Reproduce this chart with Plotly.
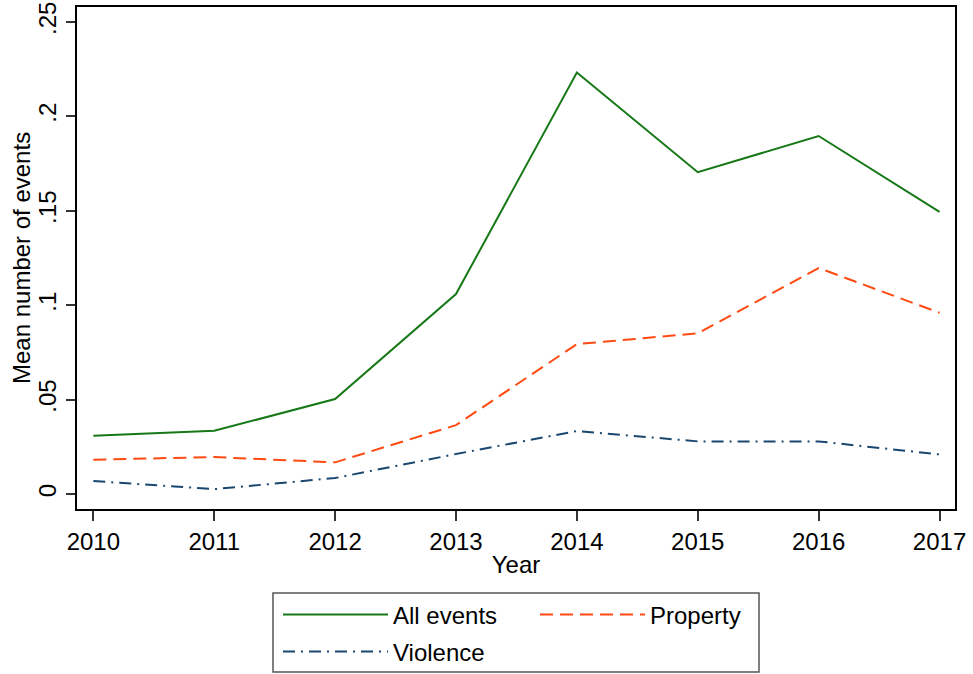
import plotly.graph_objects as go

years = [2010, 2011, 2012, 2013, 2014, 2015, 2016, 2017]
all_events = [0.0309, 0.0335, 0.0503, 0.1059, 0.2232, 0.1704, 0.1896, 0.1494]
property_ev = [0.0182, 0.0196, 0.0168, 0.0365, 0.0794, 0.0851, 0.1197, 0.0960]
violence = [0.0069, 0.0026, 0.0085, 0.0212, 0.0334, 0.0279, 0.0279, 0.0210]

y_tickvals = [0, 0.05, 0.1, 0.15, 0.2, 0.25]
y_ticktext = ["0", ".05", ".1", ".15", ".2", ".25"]

FONT = "Liberation Sans, Arial, sans-serif"
GREEN = "#167816"
ORANGE = "#ff4a12"
NAVY = "#1a476f"

fig = go.Figure()
fig.add_trace(go.Scatter(x=years, y=all_events, mode="lines", name="All events",
                         line=dict(color=GREEN, width=2), legend="legend"))
fig.add_trace(go.Scatter(x=years, y=property_ev, mode="lines", name="Property",
                         line=dict(color=ORANGE, width=2, dash="13px,7px"), legend="legend2"))
fig.add_trace(go.Scatter(x=years, y=violence, mode="lines", name="Violence",
                         line=dict(color=NAVY, width=2, dash="12px,6px,2px,6px"), legend="legend3"))

L, R, T, B = 77, 18, 7, 165
W, H = 973, 674
pw = W - L - R
ph = H - T - B

def px(x):
    return (x - L) / pw

def py(y):
    return (H - B - y) / ph

leg_common = dict(font=dict(family=FONT, size=24, color="black"), bgcolor="rgba(0,0,0,0)",
                  borderwidth=0, itemwidth=105, xanchor="left", yanchor="middle",
                  orientation="v", tracegroupgap=0)

fig.update_layout(
    width=W, height=H,
    margin=dict(l=L, r=R, t=T, b=B, autoexpand=False),
    paper_bgcolor="white", plot_bgcolor="white",
    font=dict(family=FONT, size=24, color="black"),
    showlegend=True,
    legend=dict(x=px(278), y=py(615), **leg_common),
    legend2=dict(x=px(535), y=py(615), **leg_common),
    legend3=dict(x=px(278), y=py(652), **leg_common),
    xaxis=dict(range=[2009.865, 2017.128], tickvals=years, ticks="outside", ticklen=10,
               tickwidth=1.5, tickcolor="#333", showline=True, linecolor="black", linewidth=2,
               mirror=True, showgrid=False, zeroline=False, automargin=False,
               tickfont=dict(family=FONT, size=24, color="black"),
               title=dict(text="Year", font=dict(family=FONT, size=24, color="black"), standoff=2)),
    yaxis=dict(range=[-0.0079, 0.2579], tickvals=y_tickvals, ticktext=y_ticktext,
               ticks="outside", ticklen=9, tickwidth=1.5, tickcolor="#333", tickangle=-90,
               showline=True, linecolor="black", linewidth=2, mirror=True,
               showgrid=False, zeroline=False, automargin=False,
               tickfont=dict(family=FONT, size=24, color="black")),
    annotations=[dict(text="Mean number of events", textangle=-90, xref="paper", yref="paper",
                      x=px(21), y=0.5, xanchor="center", yanchor="middle", showarrow=False,
                      font=dict(family=FONT, size=24, color="black"))],
    shapes=[dict(type="rect", xref="paper", yref="paper", x0=px(273), x1=px(759),
                 y0=py(593), y1=py(672), line=dict(color="#555", width=1.5), fillcolor="rgba(0,0,0,0)")],
)

fig.write_html("out.html", config={"displayModeBar": False},
               post_script="document.body.style.margin='0';document.body.style.padding='0';")
